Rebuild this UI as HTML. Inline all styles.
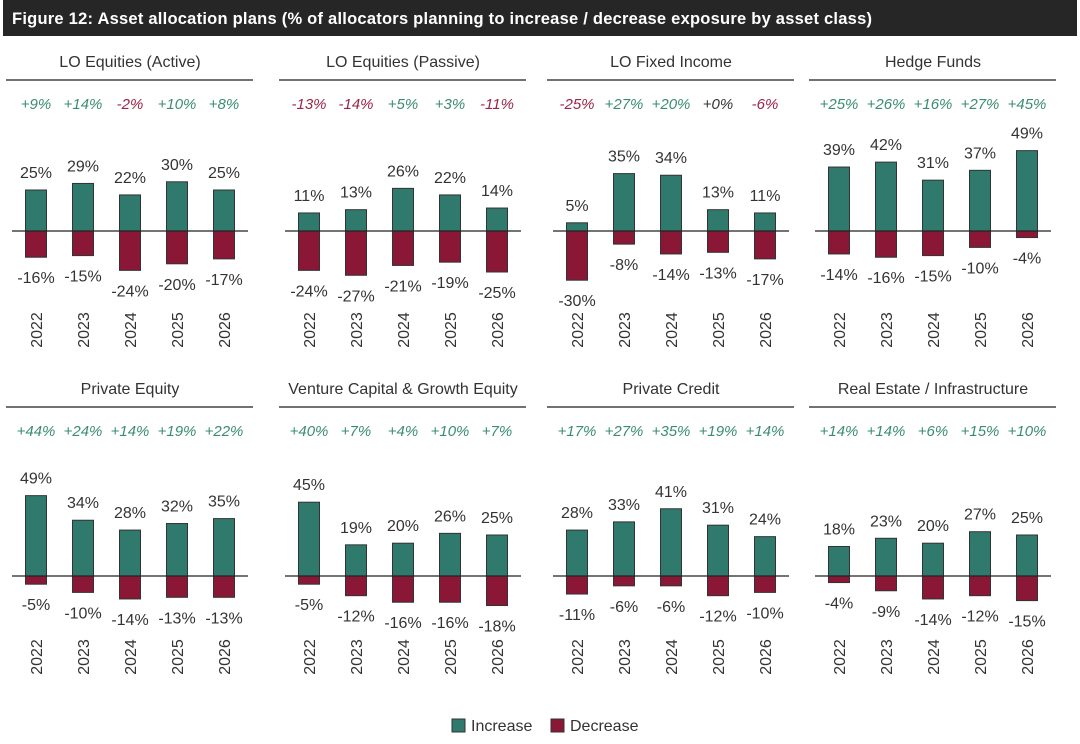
<!DOCTYPE html>
<html><head><meta charset="utf-8"><style>
body{margin:0;background:#fff;}
svg{display:block;font-family:"Liberation Sans",sans-serif;}
</style></head><body>
<svg id="c" width="1080" height="744" xmlns="http://www.w3.org/2000/svg">
<rect x="3" y="0" width="1074" height="36" fill="#262626"/>
<text x="12" y="24" fill="#fff" font-size="16.5" font-weight="bold" textLength="860">Figure 12: Asset allocation plans (% of allocators planning to increase / decrease exposure by asset class)</text>
<g id="panels"></g>
<rect x="452" y="719" width="13" height="13" fill="#2f7a6d" stroke="#333" stroke-width="1"/>
<text x="471" y="731" font-size="16" fill="#333">Increase</text>
<rect x="551" y="719" width="13" height="13" fill="#8a1736" stroke="#333" stroke-width="1"/>
<text x="570" y="731" font-size="16" fill="#333">Decrease</text>
</svg>
<script>
const years = ["2022","2023","2024","2025","2026"];
const titles = ["LO Equities (Active)","LO Equities (Passive)","LO Fixed Income","Hedge Funds","Private Equity","Venture Capital & Growth Equity","Private Credit","Real Estate / Infrastructure"];
const increase = [[25,29,22,30,25],[11,13,26,22,14],[5,35,34,13,11],[39,42,31,37,49],[49,34,28,32,35],[45,19,20,26,25],[28,33,41,31,24],[18,23,20,27,25]];
const decrease = [[16,15,24,20,17],[24,27,21,19,25],[30,8,14,13,17],[14,16,15,10,4],[5,10,14,13,13],[5,12,16,16,18],[11,6,6,12,10],[4,9,14,12,15]];
const netLabels = [["+9%","+14%","-2%","+10%","+8%"],["-13%","-14%","+5%","+3%","-11%"],["-25%","+27%","+20%","+0%","-6%"],["+25%","+26%","+16%","+27%","+45%"],["+44%","+24%","+14%","+19%","+22%"],["+40%","+7%","+4%","+10%","+7%"],["+17%","+27%","+35%","+19%","+14%"],["+14%","+14%","+6%","+15%","+10%"]];
const NS="http://www.w3.org/2000/svg";
const g=document.getElementById('panels');
const lefts=[6,279,547,809];
const scale=1.64;
function mk(tag,attrs,txt){const e=document.createElementNS(NS,tag);for(const k in attrs)e.setAttribute(k,attrs[k]);if(txt!==undefined)e.textContent=txt;g.appendChild(e);return e;}
function y0(row){return row===0?231:576;}
function xC(left,i){return left+30+i*47;}
function yV(row,v){return y0(row)-v*scale;}
titles.forEach((t,p)=>{
  const row=Math.floor(p/4), left=lefts[p%4];
  const top=row===0?0:327;
  let e=mk('text',{x:left+124,y:top+67,'text-anchor':'middle','font-size':16,fill:'#333'},t);
  
  
  e=mk('line',{x1:left,x2:left+247,y1:top+80,y2:top+80,stroke:'#444','stroke-width':1.5});
  
  
  years.forEach((yr,i)=>{
    const cx=xC(left,i);
    const nl=netLabels[p][i];
    const neg=nl.startsWith('-');
    e=mk('text',{x:cx,y:top+109,'text-anchor':'middle','font-size':15,'font-style':'italic',fill:neg?'#9b2447':(nl==='+0%'?'#333':'#3b8c74')},nl);
    
    
    const inc=increase[p][i], dec=decrease[p][i];
    const z=y0(row);
    e=mk('rect',{x:cx-10.5,y:yV(row,inc),width:21,height:z-yV(row,inc),fill:'#2f7a6d',stroke:'#333','stroke-width':1});
    
    
    e=mk('rect',{x:cx-10.5,y:z,width:21,height:yV(row,-dec)-z,fill:'#8a1736',stroke:'#333','stroke-width':1});
    
    
    e=mk('text',{x:cx,y:yV(row,inc)-12,'text-anchor':'middle','font-size':16,fill:'#333'},inc+'%');
    
    
    e=mk('text',{x:cx,y:yV(row,-dec)+26,'text-anchor':'middle','font-size':16,fill:'#333'},'-'+dec+'%');
    
    
    const ty=row===0?330:657;
    e=mk('text',{x:cx+6,y:ty,'text-anchor':'middle','font-size':16,fill:'#333',transform:`rotate(-90 ${cx+6} ${ty})`},yr);
    
    
  });
  e=mk('line',{x1:left+6,x2:left+242,y1:y0(row),y2:y0(row),stroke:'#222','stroke-width':1.3});
  
  
});
</script>
</body></html>
